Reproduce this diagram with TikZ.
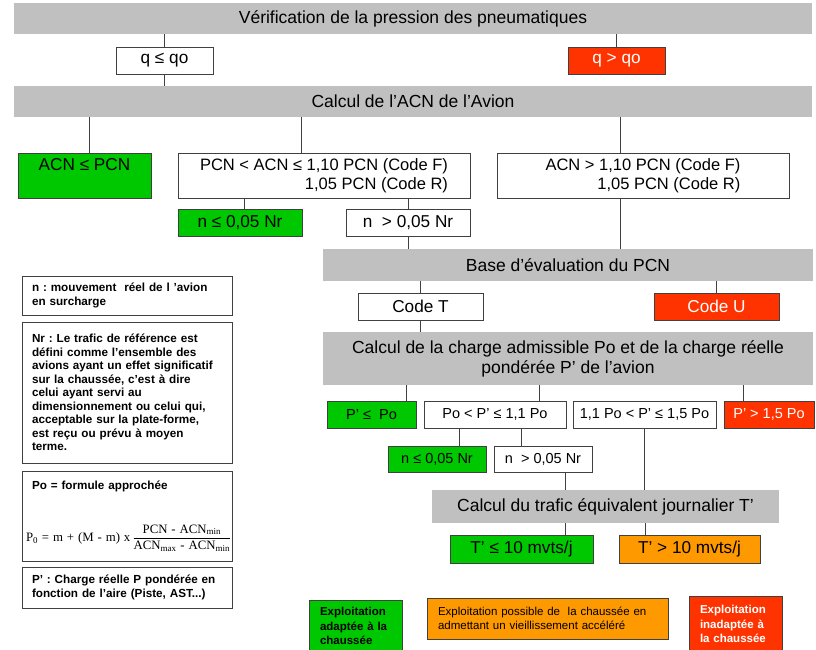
\documentclass[tikz,border=0pt]{standalone}
\usepackage{amsmath}
\usepackage{fontspec}
\setmainfont{Liberation Sans}
\newfontfamily\formfont{Liberation Serif}
\usepackage{tikz}
\usetikzlibrary{positioning}
\definecolor{bargray}{RGB}{192,192,192}
\definecolor{edgegray}{RGB}{64,64,64}
\definecolor{okgreen}{RGB}{0,200,0}
\definecolor{kored}{RGB}{255,51,0}
\definecolor{warnorange}{RGB}{255,153,0}
\frenchspacing

\begin{document}
\begin{tikzpicture}[x=1pt, y=-1pt,
  bar/.style={rectangle, fill=bargray, inner sep=0pt, align=center,
              font=\fontsize{17.5}{20}\selectfont},
  box/.style={rectangle, draw=edgegray, line width=1pt, fill=white, inner sep=0pt,
              minimum height=27pt, align=center, font=\fontsize{17.2}{19}\selectfont},
  wide/.style={box, font=\fontsize{16.5}{19}\selectfont},
  small/.style={box, font=\fontsize{14.5}{17}\selectfont},
  ok/.style={fill=okgreen},
  ko/.style={fill=kored, text=white},
  warn/.style={fill=warnorange},
  note/.style={rectangle, draw=edgegray, line width=1pt, minimum width=210pt,
               text width=190pt, inner xsep=10pt, align=left,
               font=\fontsize{11.7}{13.5}\selectfont\bfseries},
  legend/.style={rectangle, draw=edgegray, line width=1pt, inner xsep=11pt,
                 align=left, font=\fontsize{11.5}{14.5}\selectfont},
  link/.style={draw=edgegray, line width=1pt}
]
\useasboundingbox (0,0) rectangle (816,649);

% Tyre pressure
\node[bar, minimum width=798pt, minimum height=31pt] (verif) at (413,18.5)
  {Vérification de la pression des pneumatiques};
\node[box, minimum width=97pt] (qle) at (164.5,60.5) {q ≤ qo};
\node[box, ko, minimum width=97pt] (qgt) at (616.5,60.5) {q > qo};

% ACN
\node[bar, minimum width=798pt, minimum height=31pt] (acn) at (413,101.5)
  {Calcul de l’ACN de l’Avion};
\node[box, ok, minimum width=133pt, minimum height=45pt, text depth=22pt] (acnle)
  at (84.5,175.5) {ACN ≤ PCN};
\node[wide, minimum width=292pt, minimum height=45pt, align=right] (pcnmid) at (324,175.5)
  {PCN < ACN ≤ 1,10 PCN (Code F)\\1,05 PCN (Code R)};
\node[wide, minimum width=292pt, minimum height=45pt, align=right] (pcnhi) at (643,175.5)
  {ACN > 1,10 PCN (Code F)\\1,05 PCN (Code R)};
\node[box, ok, minimum width=124pt] (nle1) at (240,222.5) {n ≤ 0,05 Nr};
\node[box, minimum width=124pt] (ngt1) at (408,222.5) {n~ > 0,05 Nr};

% PCN code
\node[bar, minimum width=490pt, minimum height=32pt] (base) at (568,265)
  {Base d’évaluation du PCN};
\node[box, minimum width=125pt] (codet) at (420.5,306.5) {Code T};
\node[box, ko, minimum width=125pt] (codeu) at (716.5,306.5) {Code U};

% Loads
\node[bar, minimum width=490pt, minimum height=53pt] (charge) at (568,358.5)
  {Calcul de la charge admissible Po et de la charge réelle\\pondérée P’ de l’avion};
\node[small, ok, minimum width=89pt] (ple) at (371.5,414.5) {P’ ≤~ Po};
\node[small, minimum width=142pt] (pmid) at (495,414.5) {Po < P’ ≤ 1,1 Po};
\node[small, minimum width=143pt] (phi) at (644.5,414.5) {1,1 Po < P’ ≤ 1,5 Po};
\node[small, ko, minimum width=90pt] (pgt) at (769,414.5) {P’ > 1,5 Po};
\node[small, ok, minimum width=98pt, minimum height=26pt] (nle2) at (437,459) {n ≤ 0,05 Nr};
\node[small, minimum width=98pt, minimum height=26pt] (ngt2) at (543,459) {n~ > 0,05 Nr};

% Traffic
\node[bar, minimum width=347pt, minimum height=33pt] (trafic) at (605.5,506.5)
  {Calcul du trafic équivalent journalier T’};
\node[box, ok, minimum width=143pt, minimum height=28pt] (tle) at (521.5,549) {T’ ≤ 10 mvts/j};
\node[box, warn, minimum width=141pt, minimum height=28pt] (tgt) at (689.5,549) {T’ > 10 mvts/j};

% Notes
\node[note, minimum height=39pt] (noten) at (127,295.5)
  {n : mouvement~ réel de l ’avion\\en surcharge};
\node[note, minimum height=141pt] (notenr) at (127,392.5)
  {Nr : Le trafic de référence est\\défini comme l’ensemble des\\avions ayant un effet significatif\\sur
   la chaussée, c’est à dire\\celui ayant servi au\\dimensionnement ou celui qui,\\acceptable
   sur la plate-forme,\\est reçu ou prévu à moyen\\terme.};
\node[note, minimum height=90pt] (notepo) at (127,516)
  {Po = formule approchée\\[32pt]\mbox{\mdseries\formfont\fontsize{12.8}{15}\selectfont\hspace*{-6pt}%
   P\textsubscript{0} = m + (M - m) x\,%
   $\dfrac{\text{PCN - ACN\textsubscript{min}}}{\text{ACN\textsubscript{max} - ACN\textsubscript{min}}}$}};
\node[note, minimum height=41pt] (notep) at (127,587.5)
  {P’ : Charge réelle P pondérée en\\fonction de l’aire (Piste, AST...)};

% Legend
\node[legend, ok, text width=71pt, minimum height=52pt, font=\fontsize{11.5}{14.5}\selectfont\bfseries]
  (expok) at (355.5,626) {Exploitation\\adaptée à la\\chaussée};
\node[legend, warn, text width=219pt, minimum height=41pt] (expage) at (547.5,618.5)
  {Exploitation possible de~ la chaussée en\\admettant un vieillissement accéléré};
\node[legend, ko, text width=71pt, minimum height=56pt, font=\fontsize{11.5}{14.5}\selectfont\bfseries]
  (expko) at (735.5,624) {Exploitation\\inadaptée à\\la chaussée};

% Connectors
\draw[link] (qle.north) -- (qle.north |- verif.south);
\draw[link] (qgt.north) -- (qgt.north |- verif.south);
\draw[link] (qle.south) -- (qle.south |- acn.north);
\draw[link] ([xshift=4.5pt]acnle.north) -- ([xshift=4.5pt]acnle.north |- acn.south);
\draw[link] ([xshift=-23pt]pcnmid.north) -- ([xshift=-23pt]pcnmid.north |- acn.south);
\draw[link] ([xshift=-23pt]pcnhi.north) -- ([xshift=-23pt]pcnhi.north |- acn.south);
\draw[link] ([xshift=4pt]nle1.north) -- ([xshift=4pt]nle1.north |- pcnmid.south);
\draw[link] (ngt1.north) -- (ngt1.north |- pcnmid.south);
\draw[link] (ngt1.south) -- (ngt1.south |- base.north);
\draw[link] ([xshift=-23pt]pcnhi.south) -- ([xshift=-23pt]pcnhi.south |- base.north);
\draw[link] (codet.north) -- (codet.north |- base.south);
\draw[link] (codeu.north) -- (codeu.north |- base.south);
\draw[link] (codet.south) -- (codet.south |- charge.north);
\draw[link] ([xshift=34.5pt]ple.north) -- ([xshift=34.5pt]ple.north |- charge.south);
\draw[link] ([xshift=44pt]pmid.north) -- ([xshift=44pt]pmid.north |- charge.south);
\draw[link] ([xshift=-26pt]pgt.north) -- ([xshift=-26pt]pgt.north |- charge.south);
\draw[link] ([xshift=22pt]nle2.north) -- ([xshift=22pt]nle2.north |- pmid.south);
\draw[link] ([xshift=-22pt]ngt2.north) -- ([xshift=-22pt]ngt2.north |- pmid.south);
\draw[link] ([xshift=22pt]ngt2.south) -- ([xshift=22pt]ngt2.south |- trafic.north);
\draw[link] (phi.south) -- (phi.south |- trafic.north);
\draw[link] ([xshift=43.5pt]tle.north) -- ([xshift=43.5pt]tle.north |- trafic.south);
\draw[link] ([xshift=-44.5pt]tgt.north) -- ([xshift=-44.5pt]tgt.north |- trafic.south);
\end{tikzpicture}
\end{document}
